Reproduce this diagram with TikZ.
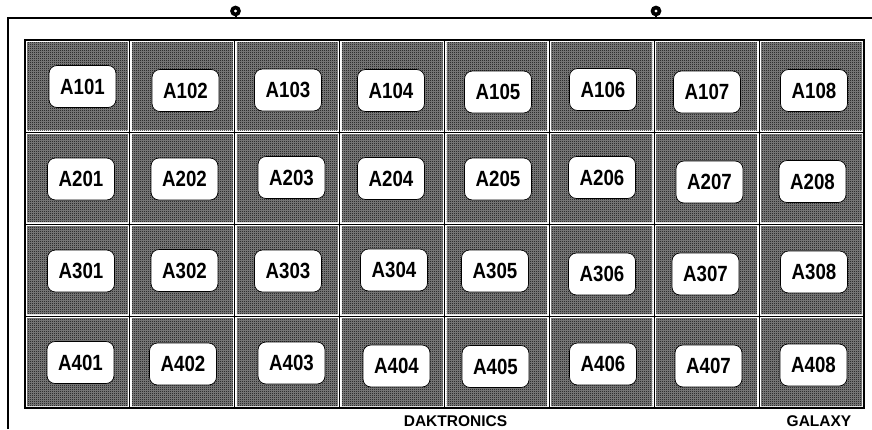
\documentclass[tikz,border=0pt]{standalone}
\usepackage{fontspec}
\setmainfont{Liberation Sans}
\newfontfamily\labfont[FakeStretch=0.85]{Liberation Sans}
\usetikzlibrary{patterns}
\pgfdeclarepatternformonly{dither}{\pgfpointorigin}{\pgfpoint{2pt}{2pt}}{\pgfpoint{2pt}{2pt}}{%
  \pgfpathrectangle{\pgfpointorigin}{\pgfpoint{1pt}{1pt}}%
  \pgfpathrectangle{\pgfpoint{1pt}{1pt}}{\pgfpoint{1pt}{1pt}}%
  \pgfusepath{fill}}
\tikzset{
  lbl/.style={draw=black, line width=0.7pt, fill=white, rounded corners=8pt,
    minimum width=67pt, minimum height=42pt, inner sep=0pt,
    font=\labfont\bfseries\fontsize{22}{23}\selectfont},
  hookring/.style={circle, draw=black, line width=3.6pt, minimum size=7pt, inner sep=0pt},
  brand/.style={font=\bfseries\fontsize{15.5}{17}\selectfont, inner sep=0pt},
  cellbase/.style={fill=black!48},
  cellfill/.style={pattern=dither, pattern color=black},
  gridline/.style={line width=1pt, black},
}
\begin{document}
\begin{tikzpicture}[x=1pt, y=-1pt]
\useasboundingbox[fill=white] (0,0) rectangle (872,429);
% outer frame
\draw[line width=1.5pt] (8,429) -- (8,18) -- (872,18);
% hooks
\node[hookring] (h1) at (235.5,11) {};
\node[hookring] (h2) at (656,11) {};
\coordinate (t1) at (235.5,18);
\coordinate (t2) at (656,18);
\draw[line width=2pt] (h1.south) -- (t1);
\draw[line width=2pt] (h2.south) -- (t2);
% cells
\foreach \i in {0,...,7}{
  \foreach \j in {0,...,3}{
    \pgfmathsetmacro{\xa}{25+104.875*\i+2}
    \pgfmathsetmacro{\xb}{25+104.875*(\i+1)-2}
    \pgfmathsetmacro{\ya}{40+92*\j+2}
    \pgfmathsetmacro{\yb}{40+92*(\j+1)-2}
    \fill[cellbase] (\xa,\ya) rectangle (\xb,\yb);
    \fill[cellfill] (\xa,\ya) rectangle (\xb,\yb);
  }
}
% grid lines
\foreach \i in {1,...,7}{
  \draw[gridline] ({25+104.875*\i},40) -- ({25+104.875*\i},408);
}
\foreach \j in {1,2,3}{
  \draw[gridline] (25,{40+92*\j}) -- (864,{40+92*\j});
}
\draw[line width=1.5pt] (25,40) rectangle (864,408);
% labels row 1
\node[lbl] (a101) at (82.5,86.5) {A101};
\node[lbl] (a102) at (185.5,90.5) {A102};
\node[lbl] (a103) at (288,90) {A103};
\node[lbl] (a104) at (391,90.5) {A104};
\node[lbl] (a105) at (498,92) {A105};
\node[lbl] (a106) at (603,89.5) {A106};
\node[lbl] (a107) at (707,92) {A107};
\node[lbl] (a108) at (814,90.5) {A108};
% row 2
\node[lbl] (a201) at (81,179) {A201};
\node[lbl] (a202) at (184.5,179) {A202};
\node[lbl] (a203) at (291.5,177.5) {A203};
\node[lbl] (a204) at (391,178.5) {A204};
\node[lbl] (a205) at (498,179) {A205};
\node[lbl] (a206) at (602,177.5) {A206};
\node[lbl] (a207) at (709.5,182) {A207};
\node[lbl] (a208) at (812.5,181.5) {A208};
% row 3
\node[lbl] (a301) at (81,271) {A301};
\node[lbl] (a302) at (184.5,270.5) {A302};
\node[lbl] (a303) at (288,271) {A303};
\node[lbl] (a304) at (394,270) {A304};
\node[lbl] (a305) at (495,271) {A305};
\node[lbl] (a306) at (602,274) {A306};
\node[lbl] (a307) at (705.5,274) {A307};
\node[lbl] (a308) at (814,272) {A308};
% row 4
\node[lbl] (a401) at (80.5,362.5) {A401};
\node[lbl] (a402) at (183,364) {A402};
\node[lbl] (a403) at (291.5,363) {A403};
\node[lbl] (a404) at (396.5,366) {A404};
\node[lbl] (a405) at (495.5,366.5) {A405};
\node[lbl] (a406) at (603,364) {A406};
\node[lbl] (a407) at (708.5,366) {A407};
\node[lbl] (a408) at (813.5,365) {A408};
% brand texts
\node[brand] (dak) at (455.5,421) {DAKTRONICS};
\node[brand] (gal) at (819,421) {GALAXY};
\end{tikzpicture}
\end{document}
